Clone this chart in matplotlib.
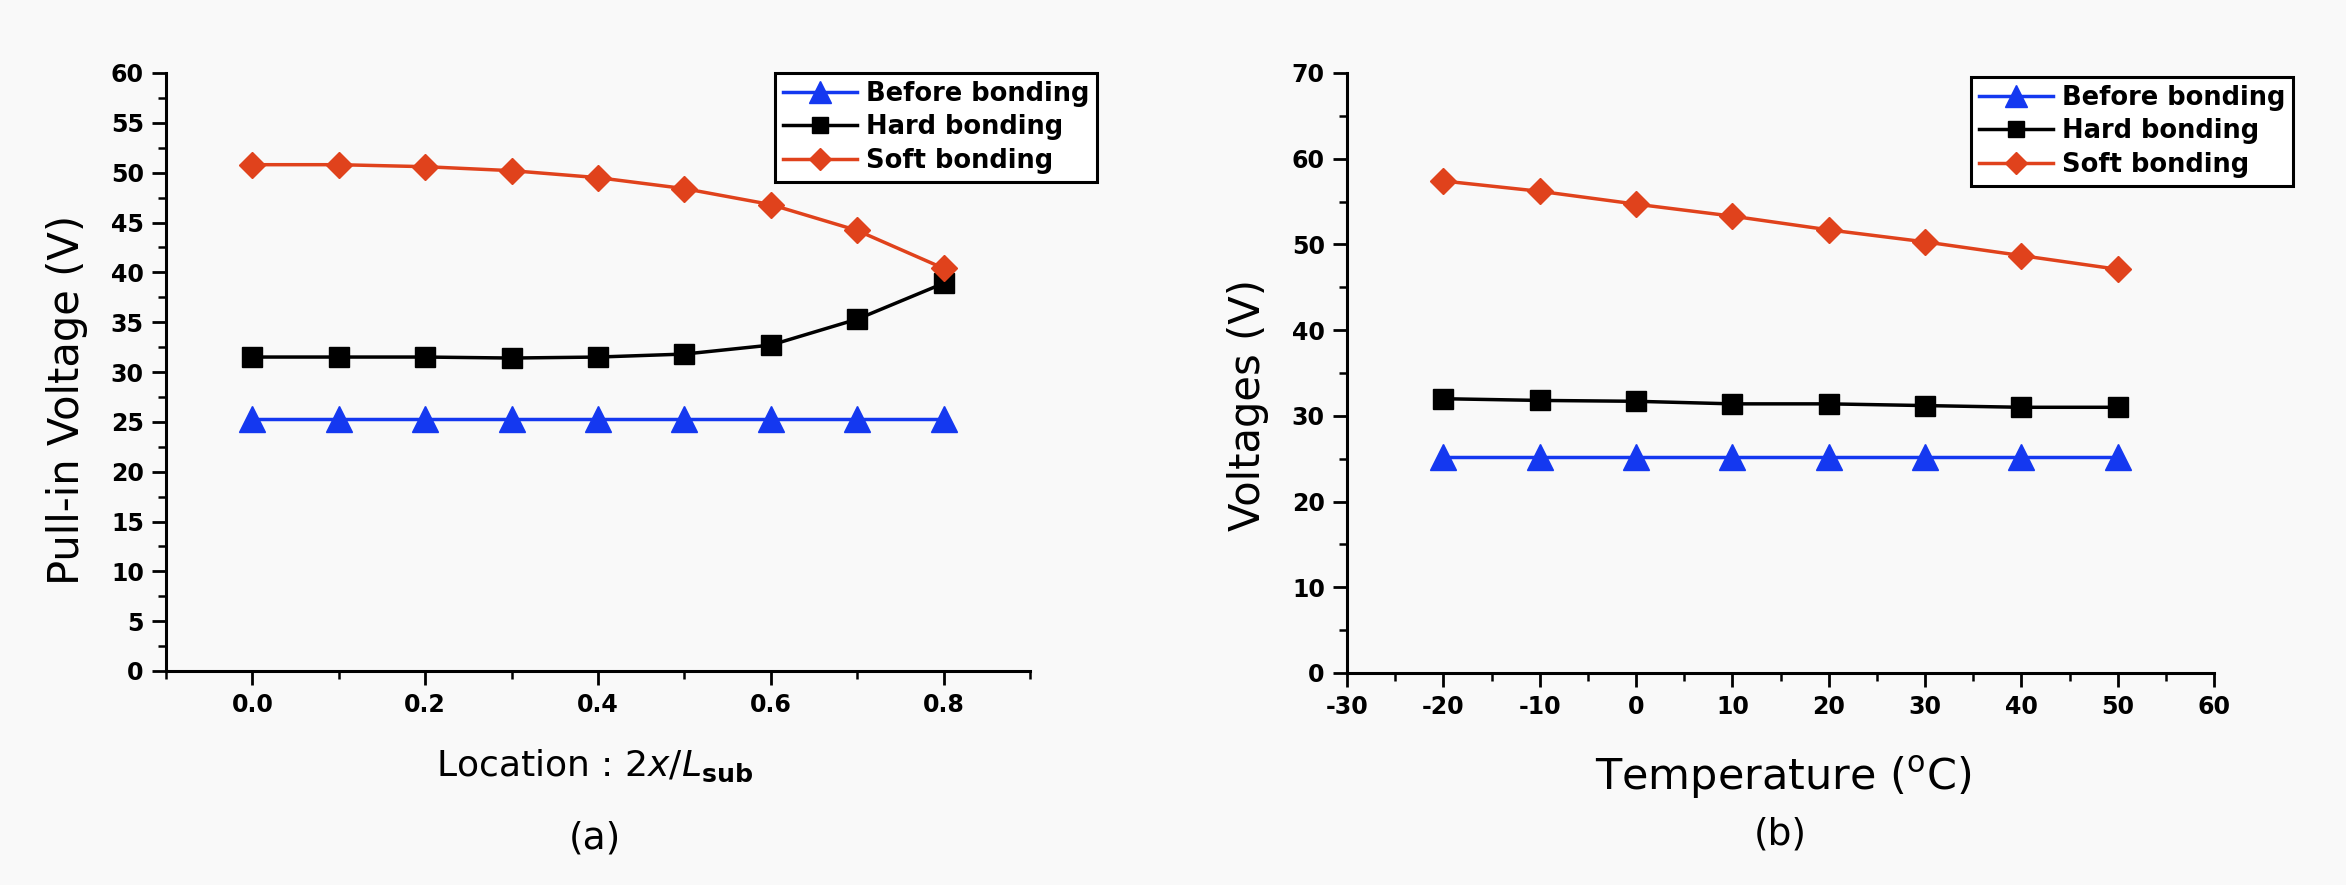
import matplotlib
matplotlib.use("Agg")
import matplotlib.pyplot as plt
from matplotlib.ticker import MultipleLocator, FormatStrFormatter

# ---- data -------------------------------------------------------------
location = [0.0, 0.1, 0.2, 0.3, 0.4, 0.5, 0.6, 0.7, 0.8]
loc_before = [25.3, 25.3, 25.3, 25.3, 25.3, 25.3, 25.3, 25.3, 25.3]
loc_hard = [31.5, 31.5, 31.5, 31.4, 31.5, 31.8, 32.7, 35.3, 38.9]
loc_soft = [50.8, 50.8, 50.6, 50.2, 49.5, 48.4, 46.8, 44.2, 40.4]

temperature = [-20, -10, 0, 10, 20, 30, 40, 50]
temp_before = [25.2, 25.2, 25.2, 25.2, 25.2, 25.2, 25.2, 25.2]
temp_hard = [32.0, 31.8, 31.7, 31.4, 31.4, 31.2, 31.0, 31.0]
temp_soft = [57.4, 56.2, 54.7, 53.3, 51.7, 50.3, 48.7, 47.1]

series_names = ["Before bonding", "Hard bonding", "Soft bonding"]

# ---- styling ----------------------------------------------------------
plt.rcParams["font.family"] = ["DejaVu Sans"]
plt.rcParams["axes.unicode_minus"] = False

BLUE = "#1438f0"
BLACK = "#000000"
RED = "#e0421c"
styles = [
    dict(color=BLUE, marker="^", markersize=19, lw=2.5),
    dict(color=BLACK, marker="s", markersize=14, lw=2.5),
    dict(color=RED, marker="D", markersize=13, lw=2.5),
]

W, H = 2346, 885
BG = "#f9f9f9"
fig = plt.figure(figsize=(W / 100, H / 100), dpi=100, facecolor=BG)


def style_axes(ax):
    for side in ("top", "right"):
        ax.spines[side].set_visible(False)
    for side in ("left", "bottom"):
        ax.spines[side].set_linewidth(2.2)
    ax.set_facecolor(BG)
    ax.tick_params(which="major", direction="out", length=10, width=2.0,
                   labelsize=17, pad=6)
    ax.tick_params(which="minor", direction="out", length=5.5, width=1.8)
    for lab in ax.get_xticklabels() + ax.get_yticklabels():
        lab.set_fontweight("bold")


def add_legend(ax, x0, y0):
    leg = ax.legend(
        loc="upper left",
        bbox_to_anchor=(x0 / W, 1 - y0 / H),
        bbox_transform=fig.transFigure,
        fontsize=18.5,
        frameon=True,
        fancybox=False,
        edgecolor="black",
        facecolor="white",
        framealpha=1,
        handlelength=2.9,
        handletextpad=0.35,
        labelspacing=0.3,
        borderpad=0.3,
        borderaxespad=0,
        markerscale=0.85,
    )
    leg.get_frame().set_linewidth(2.2)
    for t in leg.get_texts():
        t.set_fontweight("bold")


# ---- (a) pull-in voltage vs. location ----------------------------------
ax1 = fig.add_axes([166 / W, 1 - 671 / H, (1030 - 166) / W, (671 - 73) / H])
for ys, st, name in zip([loc_before, loc_hard, loc_soft], styles, series_names):
    ax1.plot(location, ys, label=name, clip_on=False, **st)
ax1.set_xlim(-0.1, 0.9)
ax1.set_ylim(0, 60)
ax1.xaxis.set_major_locator(MultipleLocator(0.2))
ax1.xaxis.set_minor_locator(MultipleLocator(0.1))
ax1.xaxis.set_major_formatter(FormatStrFormatter("%.1f"))
ax1.yaxis.set_major_locator(MultipleLocator(5))
ax1.yaxis.set_minor_locator(MultipleLocator(2.5))
style_axes(ax1)
add_legend(ax1, 775, 73)

fig.text(67 / W, 1 - 400 / H, "Pull-in Voltage (V)", rotation=90,
         ha="center", va="center", fontsize=30)
fig.text(595 / W, 1 - 766 / H, r"Location : $2x/L_{\mathbf{sub}}$",
         ha="center", va="center", fontsize=26)
fig.text(595 / W, 1 - 838 / H, "(a)", ha="center", va="center", fontsize=27)

# ---- (b) voltage vs. temperature -------------------------------------
ax2 = fig.add_axes([1347 / W, 1 - 673 / H, (2214 - 1347) / W, (673 - 73) / H])
for ys, st, name in zip([temp_before, temp_hard, temp_soft], styles, series_names):
    ax2.plot(temperature, ys, label=name, clip_on=False, **st)
ax2.set_xlim(-30, 60)
ax2.set_ylim(0, 70)
ax2.xaxis.set_major_locator(MultipleLocator(10))
ax2.xaxis.set_minor_locator(MultipleLocator(5))
ax2.yaxis.set_major_locator(MultipleLocator(10))
ax2.yaxis.set_minor_locator(MultipleLocator(5))
style_axes(ax2)
add_legend(ax2, 1971, 77)

fig.text(1248 / W, 1 - 405 / H, "Voltages (V)", rotation=90,
         ha="center", va="center", fontsize=30)
fig.text(1783 / W, 1 - 778 / H, "Temperature ($^{\\mathrm{o}}$C)",
         ha="center", va="center", fontsize=31)
fig.text(1780 / W, 1 - 835 / H, "(b)", ha="center", va="center", fontsize=27)

fig.savefig("out.png", dpi=100, facecolor=fig.get_facecolor())
